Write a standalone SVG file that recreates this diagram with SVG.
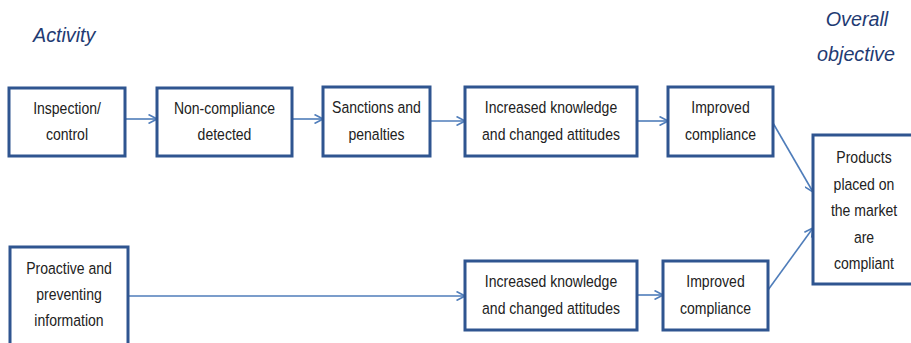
<svg xmlns="http://www.w3.org/2000/svg" width="911" height="343" viewBox="0 0 911 343">
<style>
.box{fill:#fff;stroke:#2F5590;stroke-width:3}
.t{font-family:"Liberation Sans",Arial,sans-serif;font-size:16.5px;fill:#222;text-anchor:middle}
.h{font-family:"Liberation Sans",Arial,sans-serif;font-size:21px;font-style:italic;fill:#1F3B73}
.c{stroke:#4F7DBA;stroke-width:1.6;fill:none;marker-end:url(#a)}
</style>
<defs>
<marker id="a" viewBox="0 0 10 10" refX="9.5" refY="5" markerWidth="10" markerHeight="10" markerUnits="userSpaceOnUse" orient="auto">
<path d="M1,0.5 L9.5,5 L1,9.5" fill="none" stroke="#4F7DBA" stroke-width="1.6"/>
</marker>
</defs>
<rect width="911" height="343" fill="#fff"/>
<text class="h" transform="translate(33,42) scale(0.94,1)">Activity</text>
<text class="h" transform="translate(857,26) scale(0.94,1)" text-anchor="middle">Overall</text>
<text class="h" transform="translate(856,61) scale(0.94,1)" text-anchor="middle">objective</text>
<g id="connectors">
<line class="c" x1="125" y1="119" x2="157" y2="119"/>
<line class="c" x1="292" y1="119" x2="323" y2="119"/>
<line class="c" x1="430" y1="121" x2="465" y2="121"/>
<line class="c" x1="637" y1="121" x2="668" y2="121"/>
<line class="c" x1="773" y1="123" x2="813" y2="192"/>
<line class="c" x1="128" y1="296" x2="465" y2="296"/>
<line class="c" x1="637" y1="295" x2="663" y2="295"/>
<line class="c" x1="768" y1="290" x2="813" y2="228"/>
</g>
<g id="n1"><rect class="box" x="9" y="88" width="116" height="68"/><text class="t" transform="translate(67,114) scale(0.85,1)">Inspection/</text><text class="t" transform="translate(67,140) scale(0.85,1)">control</text></g>
<g id="n2"><rect class="box" x="157" y="88" width="135" height="68"/><text class="t" transform="translate(224.5,114) scale(0.85,1)">Non-compliance</text><text class="t" transform="translate(224.5,140) scale(0.85,1)">detected</text></g>
<g id="n3"><rect class="box" x="323" y="87" width="107" height="69"/><text class="t" transform="translate(376.5,113) scale(0.85,1)">Sanctions and</text><text class="t" transform="translate(376.5,140) scale(0.85,1)">penalties</text></g>
<g id="n4"><rect class="box" x="465" y="87" width="172" height="69"/><text class="t" transform="translate(551,113) scale(0.85,1)">Increased knowledge</text><text class="t" transform="translate(551,140) scale(0.85,1)">and changed attitudes</text></g>
<g id="n5"><rect class="box" x="668" y="87" width="105" height="69"/><text class="t" transform="translate(720.5,113) scale(0.85,1)">Improved</text><text class="t" transform="translate(720.5,140) scale(0.85,1)">compliance</text></g>
<g id="n6"><rect class="box" x="813" y="135" width="100" height="149"/><text class="t" transform="translate(864,163) scale(0.85,1)">Products</text><text class="t" transform="translate(864,190) scale(0.85,1)">placed on</text><text class="t" transform="translate(864,216) scale(0.85,1)">the market</text><text class="t" transform="translate(864,243) scale(0.85,1)">are</text><text class="t" transform="translate(864,269) scale(0.85,1)">compliant</text></g>
<g id="n7"><rect class="box" x="10" y="247" width="118" height="98"/><text class="t" transform="translate(69,274) scale(0.85,1)">Proactive and</text><text class="t" transform="translate(69,300) scale(0.85,1)">preventing</text><text class="t" transform="translate(69,326) scale(0.85,1)">information</text></g>
<g id="n8"><rect class="box" x="465" y="261" width="172" height="69"/><text class="t" transform="translate(551,287) scale(0.85,1)">Increased knowledge</text><text class="t" transform="translate(551,314) scale(0.85,1)">and changed attitudes</text></g>
<g id="n9"><rect class="box" x="663" y="261" width="105" height="69"/><text class="t" transform="translate(715.5,287) scale(0.85,1)">Improved</text><text class="t" transform="translate(715.5,314) scale(0.85,1)">compliance</text></g>
</svg>
